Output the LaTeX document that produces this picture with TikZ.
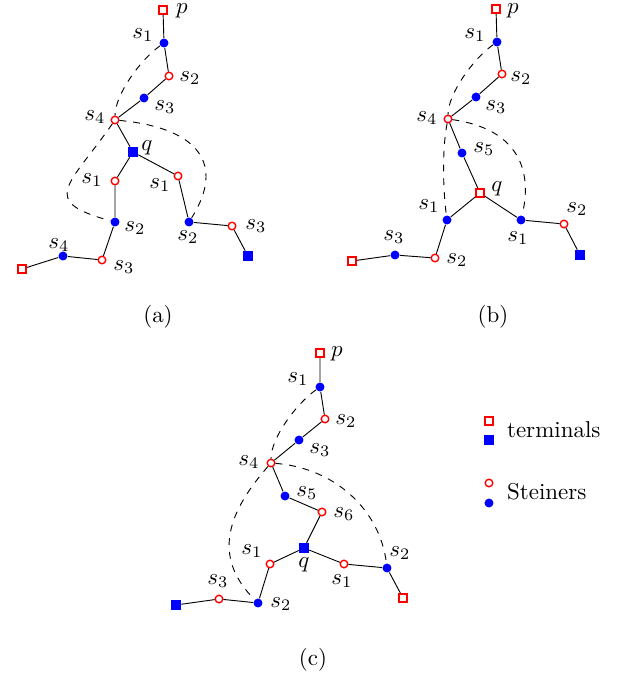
\documentclass[tikz,border=0pt]{standalone}
\usepackage{amsmath}
\usepackage{xcolor}
\usepackage{tikz}
\usetikzlibrary{positioning}

\begin{document}
\begin{tikzpicture}[
    x=0.0153cm, y=-0.0153cm,
    bstein/.style={circle, fill=blue, inner sep=0pt, minimum size=3.9pt},
    rstein/.style={circle, draw=red, fill=white, line width=0.6pt, inner sep=0pt, minimum size=3.3pt},
    bterm/.style={rectangle, fill=blue, inner sep=0pt, minimum size=4.2pt},
    rterm/.style={rectangle, draw=red, fill=white, line width=0.6pt, inner sep=0pt, minimum size=3.6pt},
    alt/.style={dashed},
    lbl/.style={inner sep=0pt},
]
\useasboundingbox (0,0) rectangle (632,679);

\node[rterm] (ap) at (163,10) {};
\node[bstein] (as1) at (164,43) {};
\node[rstein] (as2) at (169,76) {};
\node[bstein] (as3) at (144,98) {};
\node[rstein] (as4) at (115,120) {};
\node[bterm] (aq) at (133,152) {};
\node[rstein] (al1) at (115,181) {};
\node[bstein] (al2) at (115,222) {};
\node[rstein] (al3) at (102,260) {};
\node[bstein] (al4) at (63,256) {};
\node[rterm] (al5) at (22,269) {};
\node[rstein] (ar1) at (178,176) {};
\node[bstein] (ar2) at (189,222) {};
\node[rstein] (ar3) at (232,226) {};
\node[bterm] (ar4) at (248,256) {};

\node[lbl] (ap-l) at (182,11) {$p$};
\node[lbl] (as1-l) at (143,35) {$s_1$};
\node[lbl] (as2-l) at (190,78) {$s_2$};
\node[lbl] (as3-l) at (165,107) {$s_3$};
\node[lbl] (as4-l) at (95,117) {$s_4$};
\node[lbl] (aq-l) at (147,148) {$q$};
\node[lbl] (al1-l) at (92,180) {$s_1$};
\node[lbl] (al2-l) at (135,228) {$s_2$};
\node[lbl] (al3-l) at (124,267) {$s_3$};
\node[lbl] (al4-l) at (59,245) {$s_4$};
\node[lbl] (ar1-l) at (160,185) {$s_1$};
\node[lbl] (ar2-l) at (188,237) {$s_2$};
\node[lbl] (ar3-l) at (256,226) {$s_3$};
\node (capa) at (158,317) {(a)};

\draw (ap) -- (as1) -- (as2) -- (as3) -- (as4) -- (aq);
\draw (aq) -- (al1) -- (al2) -- (al3) -- (al4) -- (al5);
\draw (aq) -- (ar1) -- (ar2) -- (ar3) -- (ar4);
\draw[alt] (as1) .. controls +(-24,17) and +(0,-25) .. (as4);
\draw[alt] (as4) .. controls +(-46,66) and +(-77,-21) .. (al2);
\draw[alt] (as4) .. controls +(85,8) and +(36,-57) .. (ar2);

\node[rterm] (bp) at (496,9) {};
\node[bstein] (bs1) at (497,42) {};
\node[rstein] (bs2) at (502,74) {};
\node[bstein] (bs3) at (476,97) {};
\node[rstein] (bs4) at (448,119) {};
\node[bstein] (bs5) at (462,153) {};
\node[rterm] (bq) at (480,193) {};
\node[bstein] (bl1) at (447,220) {};
\node[rstein] (bl2) at (435,258) {};
\node[bstein] (bl3) at (395,255) {};
\node[rterm] (bl4) at (352,261) {};
\node[bstein] (br1) at (521,220) {};
\node[rstein] (br2) at (564,224) {};
\node[bterm] (br3) at (580,255) {};

\node[lbl] (bp-l) at (513,11) {$p$};
\node[lbl] (bs1-l) at (475,35) {$s_1$};
\node[lbl] (bs2-l) at (521,78) {$s_2$};
\node[lbl] (bs3-l) at (496,107) {$s_3$};
\node[lbl] (bs4-l) at (427,118) {$s_4$};
\node[lbl] (bs5-l) at (484,149) {$s_5$};
\node[lbl] (bq-l) at (497,189) {$q$};
\node[lbl] (bl1-l) at (429,206) {$s_1$};
\node[lbl] (bl2-l) at (457,260) {$s_2$};
\node[lbl] (bl3-l) at (394,237) {$s_3$};
\node[lbl] (br1-l) at (518,238) {$s_1$};
\node[lbl] (br2-l) at (577,209) {$s_2$};
\node (capb) at (493,317) {(b)};

\draw (bp) -- (bs1) -- (bs2) -- (bs3) -- (bs4) -- (bs5) -- (bq);
\draw (bq) -- (bl1) -- (bl2) -- (bl3) -- (bl4);
\draw (bq) -- (br1) -- (br2) -- (br3);
\draw[alt] (bs1) .. controls +(-24,17) and +(0,-25) .. (bs4);
\draw[alt] (bs4) .. controls +(-6,30) and +(-4,-30) .. (bl1);
\draw[alt] (bs4) .. controls +(70,10) and +(12,-50) .. (br1);

\node[rterm] (cp) at (320,353) {};
\node[bstein] (cs1) at (320,387) {};
\node[rstein] (cs2) at (325,419) {};
\node[bstein] (cs3) at (299,440) {};
\node[rstein] (cs4) at (271,463) {};
\node[bstein] (cs5) at (285,496) {};
\node[rstein] (cs6) at (322,512) {};
\node[bterm] (cq) at (304,548) {};
\node[rstein] (cl1) at (270,564) {};
\node[bstein] (cl2) at (258,603) {};
\node[rstein] (cl3) at (219,599) {};
\node[bterm] (cl4) at (176,605) {};
\node[rstein] (cr1) at (344,564) {};
\node[bstein] (cr2) at (387,568) {};
\node[rterm] (cr3) at (403,598) {};

\node[lbl] (cp-l) at (337,354) {$p$};
\node[lbl] (cs1-l) at (298,379) {$s_1$};
\node[lbl] (cs2-l) at (346,421) {$s_2$};
\node[lbl] (cs3-l) at (320,450) {$s_3$};
\node[lbl] (cs4-l) at (249,462) {$s_4$};
\node[lbl] (cs5-l) at (307,493) {$s_5$};
\node[lbl] (cs6-l) at (344,514) {$s_6$};
\node[lbl] (cq-l) at (304,565) {$q$};
\node[lbl] (cl1-l) at (252,551) {$s_1$};
\node[lbl] (cl2-l) at (281,604) {$s_2$};
\node[lbl] (cl3-l) at (218,581) {$s_3$};
\node[lbl] (cr1-l) at (342,581) {$s_1$};
\node[lbl] (cr2-l) at (400,553) {$s_2$};
\node (capc) at (313,660) {(c)};

\draw (cp) -- (cs1) -- (cs2) -- (cs3) -- (cs4) -- (cs5) -- (cs6) -- (cq);
\draw (cq) -- (cl1) -- (cl2) -- (cl3) -- (cl4);
\draw (cq) -- (cr1) -- (cr2) -- (cr3);
\draw[alt] (cs1) .. controls +(-24,17) and +(0,-25) .. (cs4);
\draw[alt] (cs4) .. controls +(-41,47) and +(-48,-48) .. (cl2);
\draw[alt] (cs4) .. controls +(64,5) and +(-7,-58) .. (cr2);

\node[rterm] (lt1) at (489,421) {};
\node[bterm] (lt2) at (489,440) {};
\node[anchor=west] (ltxt) at (499,430) {terminals};
\node[rstein] (ls1) at (489,483) {};
\node[bstein] (ls2) at (489,503) {};
\node[anchor=west] (lstxt) at (499,492) {Steiners};
\end{tikzpicture}
\end{document}
